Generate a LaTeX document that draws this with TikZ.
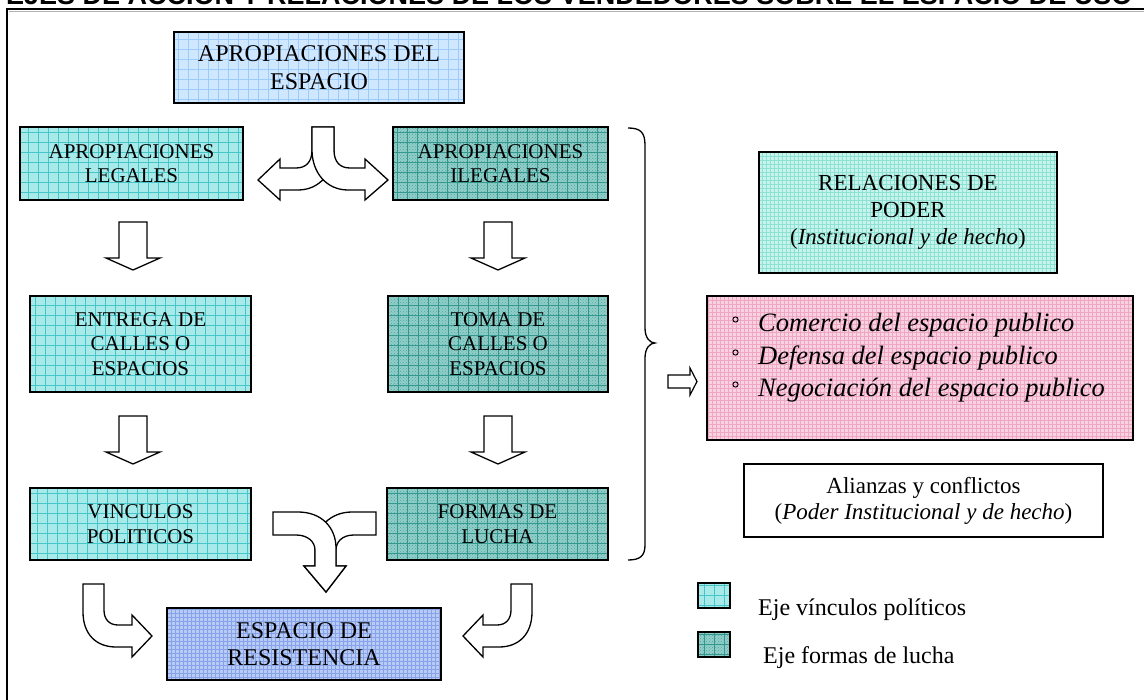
\documentclass[tikz,border=0pt]{standalone}
\usepackage{fontspec}
\setmainfont{Liberation Serif}
\newfontfamily\arialfont{Liberation Sans}
\usetikzlibrary{patterns}
\definecolor{cyanF}{HTML}{A8EAEA}
\definecolor{cyanG}{HTML}{45C6C8}
\definecolor{tealF}{HTML}{92CEC9}
\definecolor{tealG}{HTML}{34988F}
\definecolor{tealD}{HTML}{4FA9A2}
\definecolor{topF}{HTML}{CFE7FF}
\definecolor{topG}{HTML}{9DCCFA}
\definecolor{resF}{HTML}{B8CBF7}
\definecolor{resG}{HTML}{86A3E8}
\definecolor{relF}{HTML}{C6F4EC}
\definecolor{relG}{HTML}{8EE2D4}
\definecolor{pinkF}{HTML}{F8D2E0}
\definecolor{pinkG}{HTML}{EFA6C3}
\tikzset{
  gridfill/.style n args={3}{fill=#1, path picture={
    \draw[#2, line width=0.5pt] (path picture bounding box.south west) grid[step=#3] (path picture bounding box.north east);}},
  boxbase/.style={draw=black, line width=1.2pt, inner sep=0pt, align=center},
  cyanbox/.style={boxbase, gridfill={cyanF}{cyanG}{10pt}, font=\fontsize{21}{24.5}\selectfont},
  tealbox/.style={boxbase, fill=tealF, font=\fontsize{21}{24.5}\selectfont, path picture={
    \fill[pattern=crosshatch dots, pattern color=tealD] (path picture bounding box.south west) rectangle (path picture bounding box.north east);
    \draw[tealG, line width=0.5pt] (path picture bounding box.south west) grid[step=10pt] (path picture bounding box.north east);}},
  topbox/.style={boxbase, gridfill={topF}{topG}{10pt}, font=\fontsize{24}{28}\selectfont},
  resbox/.style={boxbase, gridfill={resF}{resG}{4pt}, font=\fontsize{24}{27}\selectfont},
  relbox/.style={boxbase, gridfill={relF}{relG}{4pt}, font=\fontsize{23}{27}\selectfont},
  pinkbox/.style={boxbase, gridfill={pinkF}{pinkG}{4pt}},
  plainbox/.style={boxbase, fill=white, font=\fontsize{23}{26}\selectfont},
  listtext/.style={anchor=base west, inner sep=0pt, font=\fontsize{26.5}{33}\selectfont\itshape},
  legtext/.style={anchor=base west, inner sep=0pt, font=\fontsize{24}{28}\selectfont},
  barrow/.style={draw=black, line width=1.3pt, fill=white, line join=miter},
}
\begin{document}
\begin{tikzpicture}[x=1pt,y=-1pt]
\useasboundingbox (0,0) rectangle (1144,700);
\fill[white] (0,0) rectangle (1144,700);
% clipped title (cut off at the top edge, as in the reference)
\begin{scope}
\clip (0,0) rectangle (1144,9);
\node[anchor=base west, inner sep=0pt, font=\arialfont\bfseries\fontsize{27}{30}\selectfont] (title) at (6,5) {EJES DE ACCION Y RELACIONES DE LOS VENDEDORES SOBRE EL ESPACIO DE USO};
\end{scope}
% frame
\draw[gray!60, line width=1pt] (9,11.5) -- (1144,11.5);
\draw[black, line width=2pt] (7,700) -- (7,9) -- (1144,9);

% boxes
\node[topbox, minimum width=290pt, minimum height=71pt] (top) at (319,67.5) {APROPIACIONES DEL\\ESPACIO};
\node[cyanbox, minimum width=223pt, minimum height=73pt] (legales) at (131.5,163.5) {APROPIACIONES\\LEGALES};
\node[tealbox, minimum width=215pt, minimum height=73pt] (ilegales) at (500.5,163.5) {APROPIACIONES\\ILEGALES};
\node[cyanbox, minimum width=221pt, minimum height=96pt] (entrega) at (140.5,344) {ENTREGA DE\\CALLES O\\ESPACIOS};
\node[tealbox, minimum width=220pt, minimum height=96pt] (toma) at (498,344) {TOMA DE\\CALLES O\\ESPACIOS};
\node[cyanbox, minimum width=221pt, minimum height=72pt] (vinculos) at (140.5,524) {VINCULOS\\POLITICOS};
\node[tealbox, minimum width=221pt, minimum height=72pt] (formas) at (497.5,524) {FORMAS DE\\LUCHA};
\node[resbox, minimum width=274pt, minimum height=72pt] (resist) at (304,644) {ESPACIO DE\\RESISTENCIA};
\node[relbox, minimum width=298pt, minimum height=121pt] (relac) at (908,212.5) {RELACIONES DE\\PODER\\(\textit{Institucional y de hecho})};
\node[pinkbox, minimum width=426pt, minimum height=144pt] (pink) at (920,368) {};
\node[plainbox, minimum width=359pt, minimum height=73pt] (alianzas) at (923.5,500.5) {Alianzas y conflictos\\(\textit{Poder Institucional y de hecho})};

% list in pink box
\foreach \yy in {319.5,352.5,384.5} \draw[line width=0.9pt] (735.5,\yy) circle (2.6);
\node[listtext] (l1) at (758,332) {Comercio del espacio publico};
\node[listtext] (l2) at (758,365) {Defensa del espacio publico};
\node[listtext] (l3) at (758,397) {Negociación del espacio publico};

% legend
\node[boxbase, gridfill={cyanF}{cyanG}{10pt}, minimum width=32pt, minimum height=25pt] (leg1) at (714,595.5) {};
\node[tealbox, minimum width=32pt, minimum height=25pt] (leg2) at (714,644.5) {};
\node[legtext] (legt1) at (758,615) {Eje vínculos políticos};
\node[legtext] (legt2) at (763,663) {Eje formas de lucha};

% split arrow (top)
\draw[barrow] (312,127) -- (312,150) .. controls (312,162) and (306,168) .. (296,168) -- (280,168) -- (280,159) -- (258,180) -- (280,200) -- (280,190) -- (298,190) .. controls (320,190) and (334,172) .. (334,150) -- (334,127) -- cycle;
\draw[barrow] (334,127) -- (334,150) .. controls (334,162) and (340,168) .. (350,168) -- (365,168) -- (365,159) -- (388,180) -- (365,200) -- (365,190) -- (348,190) .. controls (326,190) and (312,172) .. (312,150) -- (312,127) -- cycle;

% down arrows
\foreach \cx/\ty in {133/222,498/222,133/416,498/416}{
  \draw[barrow] (\cx-14,\ty) -- (\cx+14,\ty) -- (\cx+14,\ty+36) -- (\cx+27,\ty+36) -- (\cx,\ty+48) -- (\cx-27,\ty+36) -- (\cx-14,\ty+36) -- cycle;
}

% merge arrow (bottom middle)
\draw[barrow] (376,512) -- (352,512) .. controls (330,512) and (315,528) .. (315,548) -- (315,566) -- (304,566) -- (326,592) -- (346,566) -- (336,566) -- (336,550) .. controls (336,542) and (342,535) .. (354,535) -- (376,535) -- cycle;
\draw[barrow] (273,512) -- (298,512) .. controls (322,512) and (336,528) .. (336,548) -- (336,566) -- (346,566) -- (326,592) -- (304,566) -- (315,566) -- (315,550) .. controls (315,542) and (308,535) .. (296,535) -- (273,535) -- cycle;

% J arrows
\draw[barrow] (83,584) -- (104,584) -- (104,610) .. controls (104,619) and (109,625) .. (118,625) -- (132,625) -- (132,615) -- (152,636) -- (132,657) -- (132,647) -- (116,647) .. controls (96,647) and (83,634) .. (83,612) -- cycle;
\draw[barrow] (532,584) -- (511,584) -- (511,610) .. controls (511,619) and (506,625) .. (497,625) -- (483,625) -- (483,615) -- (463,636) -- (483,657) -- (483,647) -- (499,647) .. controls (519,647) and (532,634) .. (532,612) -- cycle;

% small right arrow
\draw[barrow, line width=1.2pt] (668,375) -- (690,375) -- (690,368) -- (697,381.5) -- (690,395) -- (690,388) -- (668,388) -- cycle;

% brace
\draw[line width=1.3pt] (628,128) .. controls (640,128) and (645,132) .. (645,145) -- (645,328) .. controls (645,338) and (650,343) .. (655,343) .. controls (650,343) and (645,348) .. (645,358) -- (645,545) .. controls (645,556) and (640,560) .. (628,560);
\end{tikzpicture}
\end{document}
